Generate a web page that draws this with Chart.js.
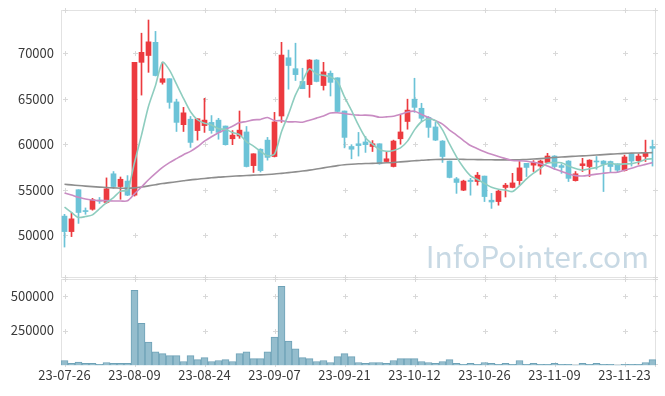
<!DOCTYPE html>
<html><head><meta charset="utf-8">
<script src="https://cdn.jsdelivr.net/npm/chart.js@4.4.0/dist/chart.umd.min.js"></script>
<style>
html,body{margin:0;padding:0;background:#fff;}
#wrap{position:relative;width:665px;height:396px;overflow:hidden;background:#fff;}
#pc{position:absolute;left:0;top:0;}
#vc{position:absolute;left:0;top:278px;}
</style></head><body>
<div id="wrap"><canvas id="pc" width="665" height="279"></canvas><canvas id="vc" width="665" height="118"></canvas></div>
<script>
const dates = ['23-07-26','23-07-27','23-07-28','23-07-31','23-08-01','23-08-02','23-08-03','23-08-04','23-08-07','23-08-08',
'23-08-09','23-08-10','23-08-11','23-08-14','23-08-16','23-08-17','23-08-18','23-08-21','23-08-22','23-08-23',
'23-08-24','23-08-25','23-08-28','23-08-29','23-08-30','23-08-31','23-09-01','23-09-04','23-09-05','23-09-06',
'23-09-07','23-09-08','23-09-11','23-09-12','23-09-13','23-09-14','23-09-15','23-09-18','23-09-19','23-09-20',
'23-09-21','23-09-22','23-09-25','23-09-26','23-09-27','23-10-04','23-10-05','23-10-06','23-10-10','23-10-11',
'23-10-12','23-10-13','23-10-16','23-10-17','23-10-18','23-10-19','23-10-20','23-10-23','23-10-24','23-10-25',
'23-10-26','23-10-27','23-10-30','23-10-31','23-11-01','23-11-02','23-11-03','23-11-06','23-11-07','23-11-08',
'23-11-09','23-11-10','23-11-13','23-11-14','23-11-15','23-11-16','23-11-17','23-11-20','23-11-21','23-11-22',
'23-11-23','23-11-24','23-11-27','23-11-28','23-11-29'];
const tickDates = ['23-07-26','23-08-09','23-08-24','23-09-07','23-09-21','23-10-12','23-10-26','23-11-09','23-11-23'];

const openP = [52100,50400,55000,52700,52850,53850,53600,56750,55350,55950,
54400,69000,69750,71200,66800,67200,64650,62150,62750,61500,
62050,62400,62650,62000,60600,60900,61350,57650,59450,60450,
58650,63100,69500,68300,66900,66550,69250,66450,67800,67300,
63650,59750,60050,60250,59750,60050,58100,57550,60600,62500,
64950,63950,62950,61900,60350,58150,56200,54950,56050,55900,
56500,53850,53700,55250,55250,56000,57900,57700,57600,58000,
58700,57650,58150,56000,57650,57550,58150,58150,58100,57850,
57100,58950,58200,58650,59750];
const highP = [52300,52500,55000,53000,54050,54150,56300,57000,56400,56550,
69000,72200,73650,72400,69000,67200,64950,64050,63050,62800,
65050,63150,62850,62000,61500,63650,61950,58950,59500,60750,
63500,71200,70350,71100,68350,69300,69300,69000,68050,67300,
63650,59950,61300,60850,60400,60050,59200,60450,63200,64950,
67250,64500,63050,62400,60400,58150,56350,56050,56250,56900,
56500,54600,54950,55700,56800,58100,57900,58200,58250,59000,
58750,57850,58200,57000,58450,58300,58650,58200,58150,57850,
58800,59000,58950,60450,60450];
const lowP = [48700,49850,51300,52300,52750,53500,53500,55150,53950,54350,
54300,65400,67900,67500,66600,63950,61400,61400,59650,60450,
61300,61200,60550,59900,59950,60650,57500,56900,56950,58250,
58600,62400,66050,67000,66100,65150,66850,65950,65300,63550,
59600,58400,58700,59100,59200,57800,58100,57500,60000,61650,
63500,62500,60750,60400,58000,56300,54600,54900,54400,55500,
53700,52950,53300,54200,55200,55500,56450,57000,56700,57950,
57250,56800,55900,55950,57000,56450,57250,54800,56900,56900,
57050,57600,57800,58100,57600];
const closeP = [50400,51800,52500,52600,53900,53750,55100,55350,56150,54400,
69000,70100,71250,67550,67200,64600,62400,63450,60200,62800,
62650,61500,61300,59950,61000,61550,57550,58950,57100,58550,
62450,69800,68650,67650,66100,69250,66900,67950,66800,63600,
60750,59450,59850,59950,60050,57850,58400,60350,61350,63750,
64050,62850,61850,60450,58650,56350,55800,55950,55900,56600,
54250,53650,54850,55500,55750,57400,57450,58000,58150,58700,
57550,57450,56250,56750,57850,58250,58050,57800,57550,57150,
58600,58150,58700,59100,59550];

const ma5 = [53100,52500,51950,52050,52240,52910,53570,54140,54850,54950,
58000,61000,64180,66460,69020,68140,66600,65040,63570,62690,
62300,62120,61690,61640,61280,61060,60270,59800,59230,58740,
58920,61370,63310,65420,66930,68290,67710,67570,67400,66900,
65200,63710,62090,60720,60010,59430,59220,59320,59600,60340,
61580,62470,62770,62590,61570,60030,58620,57440,56530,56120,
55700,55270,55050,54970,54800,55430,56190,56820,57350,57940,
57970,57970,57620,57340,57170,57310,57430,57740,57910,57770,
57840,57860,58040,58330,58410];
const ma20 = [54650,54420,54170,53980,53870,53800,53800,53760,53760,53780,
54550,55300,56100,56800,57450,57980,58420,58850,59220,59725,
60338,60823,61263,61630,61985,62375,62498,62678,62725,62933,
62605,62590,62460,62465,62410,62643,62868,63093,63423,63463,
63368,63265,63193,63193,63145,62960,63003,63073,63285,63545,
63625,63278,62938,62578,62205,61560,61005,60405,59860,59510,
59185,58895,58645,58423,58208,58185,58138,58020,57860,57608,
57283,57013,56733,56548,56508,56603,56715,56808,56890,56918,
57135,57360,57600,57785,57978];
const ma60 = [55600,55530,55460,55400,55340,55290,55240,55200,55170,55150,
55200,55300,55420,55550,55680,55780,55880,55980,56080,56160,
56240,56310,56380,56430,56480,56520,56560,56600,56630,56670,
56720,56800,56880,56960,57050,57150,57270,57400,57530,57650,
57740,57800,57850,57880,57900,57930,57960,58000,58060,58120,
58180,58240,58280,58320,58340,58350,58350,58340,58320,58310,
58300,58290,58280,58280,58280,58300,58330,58370,58420,58480,
58540,58590,58640,58680,58720,58760,58810,58860,58910,58950,
58990,59020,59040,59060,59080];

const volume = [35000,14000,23000,14000,14000,7000,21000,14000,14000,14000,
539000,301000,168000,98000,84000,70000,70000,28000,70000,42000,
56000,28000,35000,42000,28000,84000,98000,49000,49000,98000,
203000,567000,175000,119000,56000,49000,28000,35000,21000,63000,
84000,63000,21000,14000,21000,21000,14000,35000,49000,49000,
49000,28000,21000,14000,28000,42000,14000,7000,14000,7000,
21000,14000,7000,14000,7000,35000,7000,14000,7000,7000,
14000,7000,7000,3000,14000,7000,14000,7000,7000,3000,
7000,7000,7000,21000,42000];

const priceTicks = [50000,55000,60000,65000,70000];
const volumeTicks = [250000,500000];
const watermark = 'InfoPointer.com';

const UP = '#ec3a3f', DOWN = '#6cc3d7';
const FONT = '"Noto Sans CJK KR","Noto Sans",sans-serif';
const candleColors = closeP.map((c,i)=> c >= openP[i] ? UP : DOWN);

function framePlugin(tickVals, yId, mark){
  return {
    id:'frame'+yId,
    beforeDatasetsDraw(chart){
      const {ctx, chartArea:a, scales} = chart;
      ctx.save();
      if (mark){
        ctx.font = '30px ' + FONT;
        ctx.fillStyle = '#c8d9e4';
        ctx.textAlign = 'right';
        ctx.textBaseline = 'alphabetic';
        ctx.fillText(mark, a.right - 7, a.bottom - 10);
      }
      ctx.strokeStyle = '#e2e2e2';
      ctx.lineWidth = 1;
      ctx.strokeRect(Math.round(a.left)+0.5, Math.round(a.top)+0.5, Math.round(a.right-a.left)-1, Math.round(a.bottom-a.top)-1);
      const xs = tickDates.map(d => Math.round(scales.x.getPixelForValue(dates.indexOf(d)))+0.5);
      xs.push(Math.round(a.right)-0.5);
      const ys = tickVals.map(v => Math.round(scales[yId].getPixelForValue(v))+0.5);
      ys.push(Math.round(a.top)+0.5, Math.round(a.bottom)-0.5);
      ctx.strokeStyle = '#d9d9d9';
      ctx.beginPath();
      xs.forEach(x => ys.forEach(y => {
        ctx.moveTo(x-2.5,y); ctx.lineTo(x+2.5,y);
        ctx.moveTo(x,y-2.5); ctx.lineTo(x,y+2.5);
      }));
      ctx.stroke();
      ctx.restore();
    }
  };
}

function fixY(s){ s.width = 61; s.paddingTop = 0; s.paddingBottom = 0; }

Chart.defaults.font.family = FONT;
Chart.defaults.font.size = 13;
Chart.defaults.color = '#3a3a3a';

new Chart(document.getElementById('pc'), {
  type:'bar',
  data:{
    labels: dates,
    datasets:[
      {type:'line', data: ma5, borderColor:'#8ecdbf', borderWidth:1.6, pointRadius:0, tension:0.25, order:1},
      {type:'line', data: ma20, borderColor:'#c98cc3', borderWidth:1.6, pointRadius:0, tension:0.25, order:1},
      {type:'line', data: ma60, borderColor:'#8e8e8e', borderWidth:1.6, pointRadius:0, tension:0.25, order:1},
      {data: openP.map((o,i)=>[Math.min(o,closeP[i]), Math.max(o,closeP[i])]), backgroundColor: candleColors,
       barThickness:5, grouped:false, minBarLength:1, order:2},
      {data: lowP.map((l,i)=>[l, highP[i]]), backgroundColor: candleColors,
       barThickness:1, grouped:false, order:3}
    ]
  },
  options:{
    responsive:false, animation:false, devicePixelRatio:1,
    layout:{padding:{top:10, right:9, bottom:1, left:0}},
    plugins:{legend:{display:false}, tooltip:{enabled:false}},
    scales:{
      x:{type:'category', display:false, offset:true, grid:{display:false}},
      y:{min:45300, max:74750, position:'left',
         afterFit: fixY,
         afterBuildTicks(s){ s.ticks = priceTicks.map(v=>({value:v})); },
         grid:{display:false, drawTicks:false}, border:{display:false},
         ticks:{padding:7, color:'#3a3a3a', callback: v => String(v)}}
    }
  },
  plugins:[framePlugin(priceTicks,'y',watermark)]
});

new Chart(document.getElementById('vc'), {
  type:'bar',
  data:{
    labels: dates,
    datasets:[{data: volume, backgroundColor:'#94bdcd', borderColor:'#6ea2b7', borderWidth:1,
      barPercentage:1, categoryPercentage:1}]
  },
  options:{
    responsive:false, animation:false, devicePixelRatio:1,
    layout:{padding:{top:1, right:9, bottom:11, left:0}},
    plugins:{legend:{display:false}, tooltip:{enabled:false}},
    scales:{
      x:{type:'category', offset:true, grid:{display:false, drawTicks:false}, border:{display:false},
         afterBuildTicks(s){ s.ticks = tickDates.map(d=>({value:dates.indexOf(d)})); },
         ticks:{autoSkip:false, maxRotation:0, padding:2, color:'#3a3a3a'}},
      y:{min:0, max:620000, position:'left',
         afterFit: fixY,
         afterBuildTicks(s){ s.ticks = volumeTicks.map(v=>({value:v})); },
         grid:{display:false, drawTicks:false}, border:{display:false},
         ticks:{padding:7, color:'#3a3a3a', callback: v => String(v)}}
    }
  },
  plugins:[framePlugin(volumeTicks,'y',null)]
});
</script></body></html>
